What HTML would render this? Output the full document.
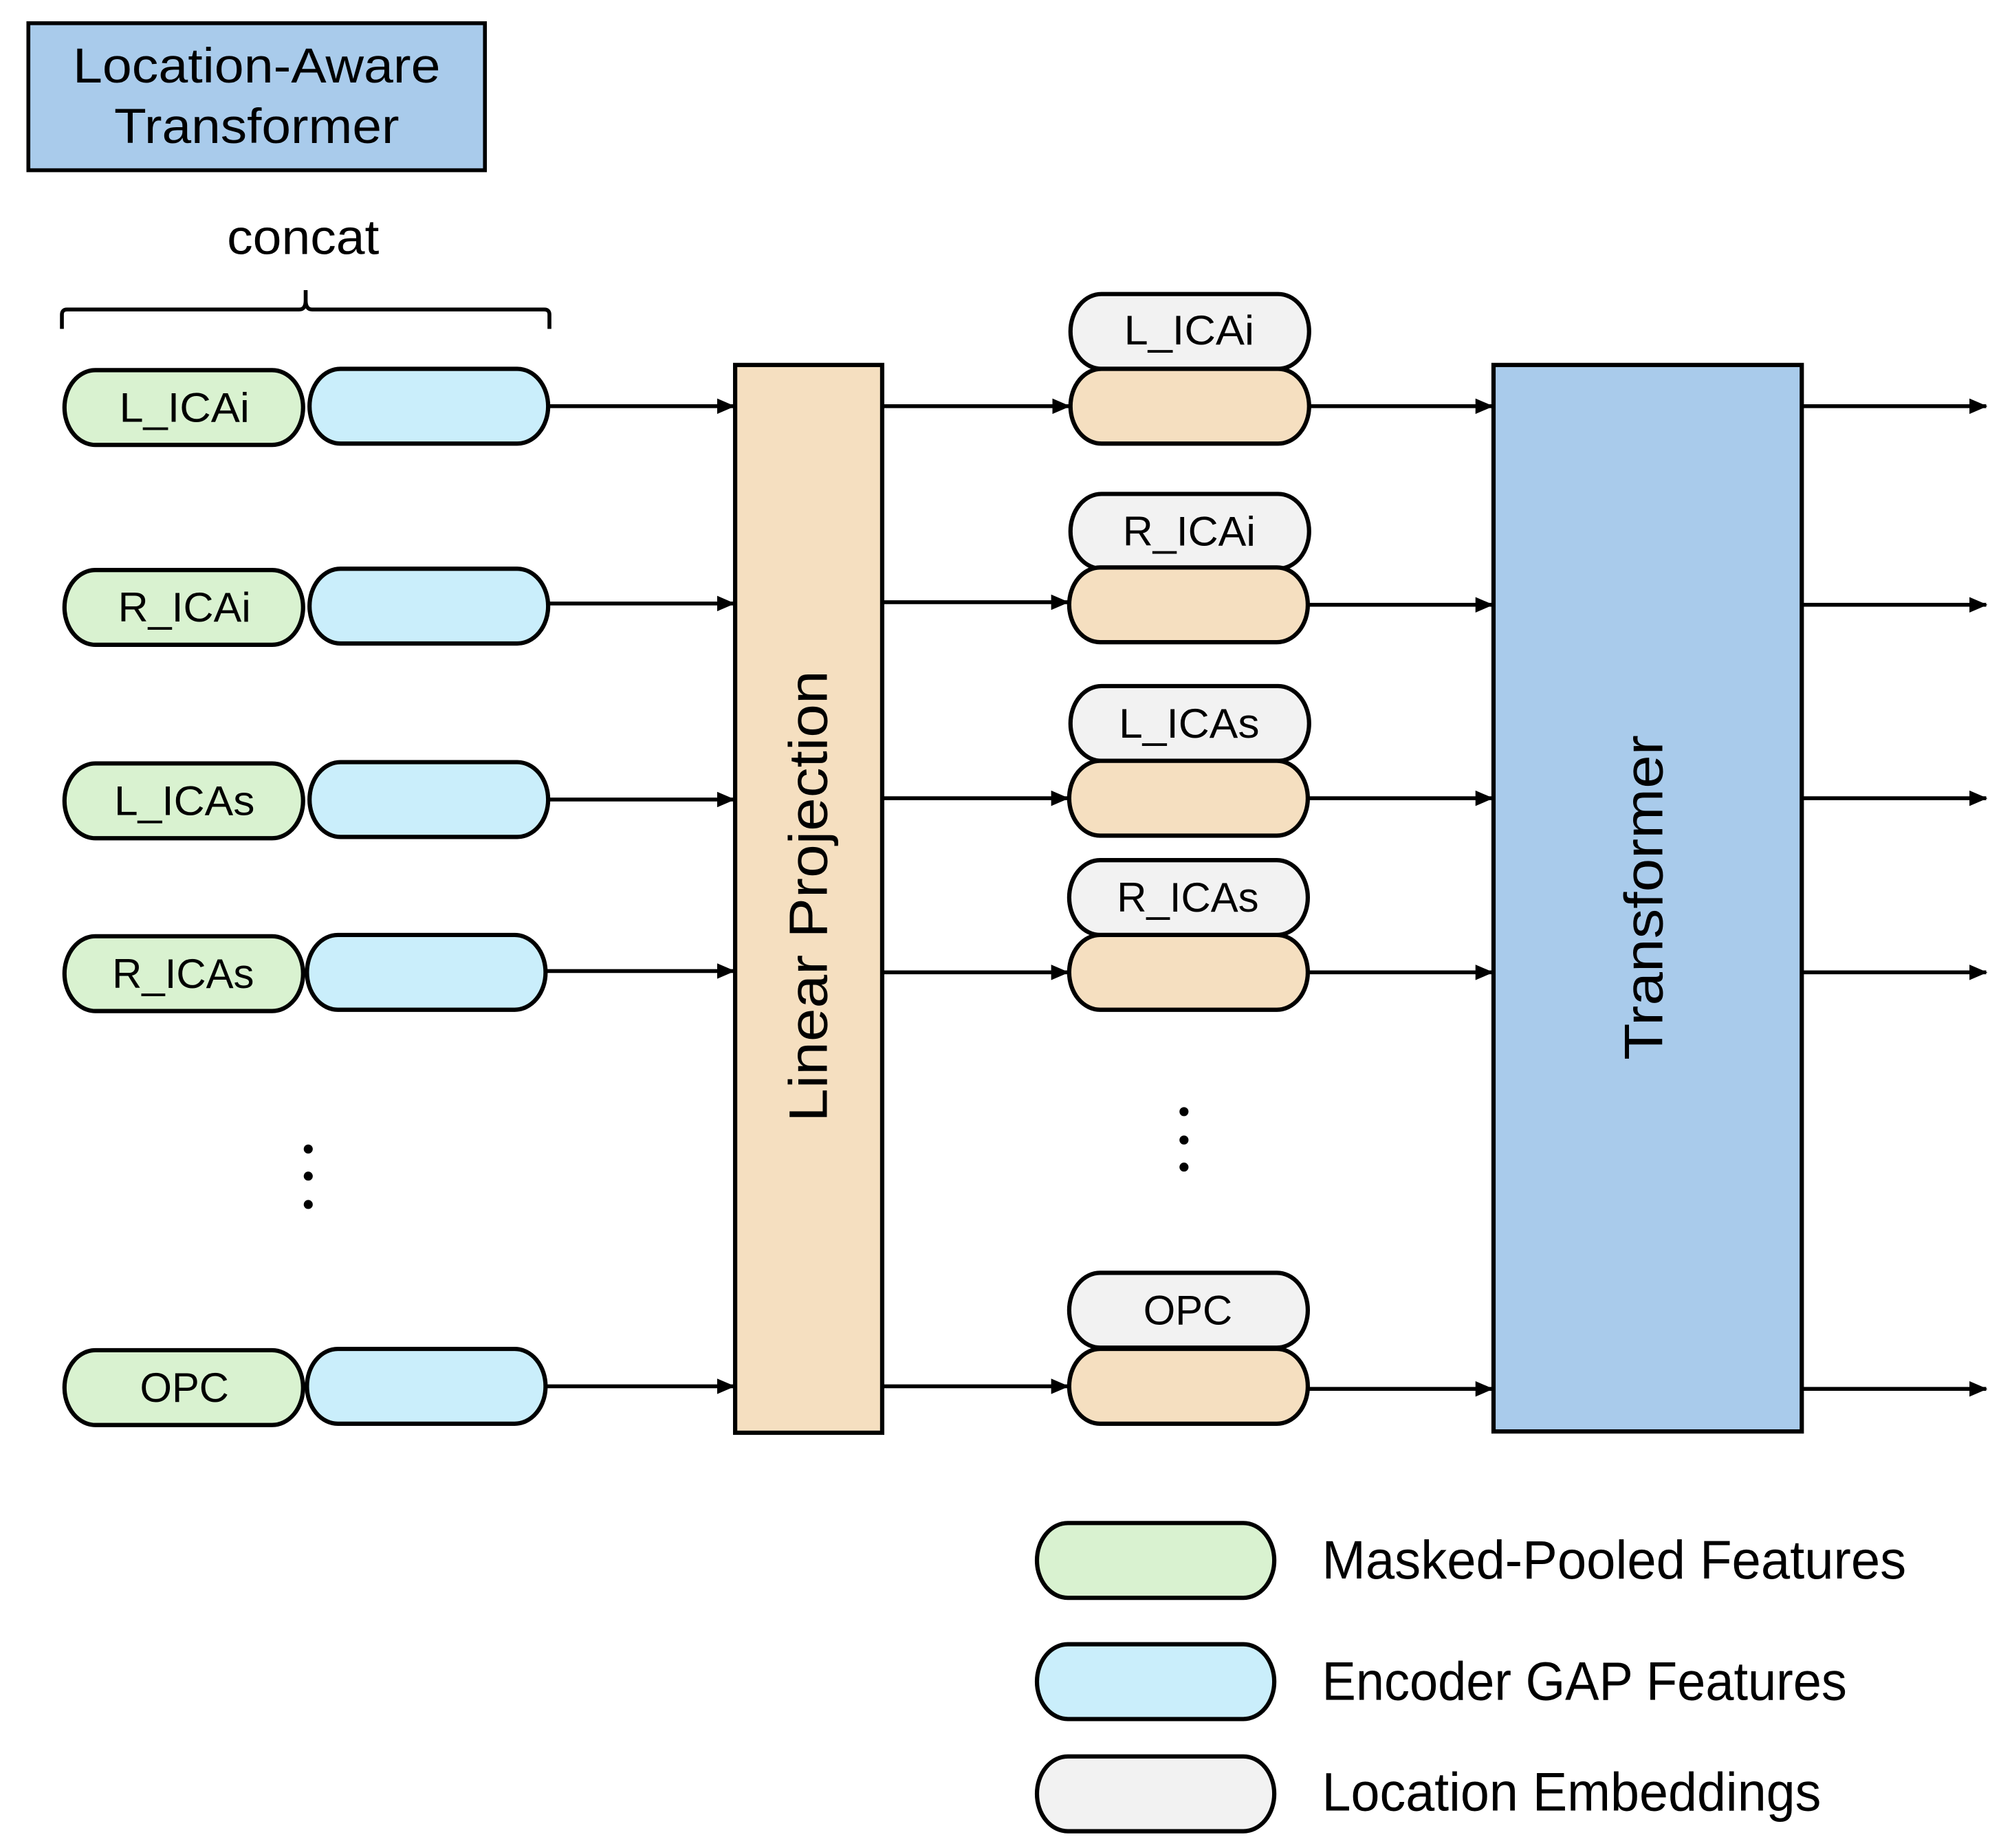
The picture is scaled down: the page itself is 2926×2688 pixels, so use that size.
<!DOCTYPE html>
<html><head><meta charset="utf-8"><style>
html,body{margin:0;padding:0;background:#fff;}
svg{display:block;}
text{font-family:"Liberation Sans","Noto Sans CJK JP",sans-serif;fill:#000;}
</style></head><body>
<svg width="2926" height="2688" viewBox="0 0 1560 1433" preserveAspectRatio="none" xmlns="http://www.w3.org/2000/svg">
<defs>
<marker id="ah" markerWidth="14" markerHeight="12" refX="13" refY="6" orient="auto" markerUnits="userSpaceOnUse">
<path d="M0,0 L14,6 L0,12 Z" fill="#000"/>
</marker>
</defs>
<g stroke="#000" stroke-width="3">
<rect x="22" y="18" width="354" height="114" fill="#a9cbeb"/>
</g>
<text x="199" y="64" font-size="38" text-anchor="middle" textLength="285" lengthAdjust="spacingAndGlyphs">Location-Aware</text>
<text x="199" y="111" font-size="38" text-anchor="middle" textLength="221" lengthAdjust="spacingAndGlyphs">Transformer</text>
<text x="235" y="197" font-size="38" text-anchor="middle" textLength="118" lengthAdjust="spacingAndGlyphs">concat</text>
<path d="M48,255 L48,244 Q48,240 52,240 L232,240 Q237,240 237,233 L237,225 L237,233 Q237,240 242,240 L422,240 Q426,240 426,244 L426,255" fill="none" stroke="#000" stroke-width="3"/>

<g stroke="#000" stroke-width="3.3">
<rect x="50" y="287" width="185" height="58" rx="24" ry="29" fill="#d9f2d0"/>
<rect x="240" y="286" width="185" height="58" rx="24" ry="29" fill="#caeefb"/>
<rect x="50" y="442" width="185" height="58" rx="24" ry="29" fill="#d9f2d0"/>
<rect x="240" y="441" width="185" height="58" rx="24" ry="29" fill="#caeefb"/>
<rect x="50" y="592" width="185" height="58" rx="24" ry="29" fill="#d9f2d0"/>
<rect x="240" y="591" width="185" height="58" rx="24" ry="29" fill="#caeefb"/>
<rect x="50" y="726" width="185" height="58" rx="24" ry="29" fill="#d9f2d0"/>
<rect x="238" y="725" width="185" height="58" rx="24" ry="29" fill="#caeefb"/>
<rect x="50" y="1047" width="185" height="58" rx="24" ry="29" fill="#d9f2d0"/>
<rect x="238" y="1046" width="185" height="58" rx="24" ry="29" fill="#caeefb"/>

<rect x="570" y="283" width="114" height="828" fill="#f5dfc0"/>

<rect x="830" y="228" width="185" height="58" rx="24" ry="29" fill="#f2f2f2"/>
<rect x="830" y="286" width="185" height="58" rx="24" ry="29" fill="#f5dfc0"/>
<rect x="830" y="383" width="185" height="58" rx="24" ry="29" fill="#f2f2f2"/>
<rect x="829" y="440" width="185" height="58" rx="24" ry="29" fill="#f5dfc0"/>
<rect x="830" y="532" width="185" height="58" rx="24" ry="29" fill="#f2f2f2"/>
<rect x="829" y="590" width="185" height="58" rx="24" ry="29" fill="#f5dfc0"/>
<rect x="829" y="667" width="185" height="58" rx="24" ry="29" fill="#f2f2f2"/>
<rect x="829" y="725" width="185" height="58" rx="24" ry="29" fill="#f5dfc0"/>
<rect x="829" y="987" width="185" height="58" rx="24" ry="29" fill="#f2f2f2"/>
<rect x="829" y="1046" width="185" height="58" rx="24" ry="29" fill="#f5dfc0"/>

<rect x="1158" y="283" width="239" height="827" fill="#a9cbeb"/>

<rect x="804" y="1181" width="184" height="58" rx="24" ry="29" fill="#d9f2d0"/>
<rect x="804" y="1275" width="184" height="58" rx="24" ry="29" fill="#caeefb"/>
<rect x="804" y="1362" width="184" height="58" rx="24" ry="29" fill="#f2f2f2"/>
</g>

<g stroke="#000" stroke-width="3" marker-end="url(#ah)">
<line x1="426" y1="315" x2="569" y2="315"/>
<line x1="426" y1="468" x2="569" y2="468"/>
<line x1="426" y1="620" x2="569" y2="620"/>
<line x1="424" y1="753" x2="569" y2="753"/>
<line x1="424" y1="1075" x2="569" y2="1075"/>
<line x1="684" y1="315" x2="829" y2="315"/>
<line x1="684" y1="467" x2="828" y2="467"/>
<line x1="684" y1="619" x2="828" y2="619"/>
<line x1="684" y1="754" x2="828" y2="754"/>
<line x1="684" y1="1075" x2="828" y2="1075"/>
<line x1="1015" y1="315" x2="1157" y2="315"/>
<line x1="1014" y1="469" x2="1157" y2="469"/>
<line x1="1014" y1="619" x2="1157" y2="619"/>
<line x1="1014" y1="754" x2="1157" y2="754"/>
<line x1="1014" y1="1077" x2="1157" y2="1077"/>
<line x1="1397" y1="315" x2="1540" y2="315"/>
<line x1="1397" y1="469" x2="1540" y2="469"/>
<line x1="1397" y1="619" x2="1540" y2="619"/>
<line x1="1397" y1="754" x2="1540" y2="754"/>
<line x1="1397" y1="1077" x2="1540" y2="1077"/>
</g>

<g fill="#000">
<circle cx="239" cy="891" r="3.5"/><circle cx="239" cy="912" r="3.5"/><circle cx="239" cy="934" r="3.5"/>
<circle cx="918" cy="862" r="3.5"/><circle cx="918" cy="884" r="3.5"/><circle cx="918" cy="905" r="3.5"/>
</g>

<g font-size="32" text-anchor="middle">
<text x="143" y="327" textLength="101" lengthAdjust="spacingAndGlyphs">L_ICAi</text>
<text x="143" y="482" textLength="103" lengthAdjust="spacingAndGlyphs">R_ICAi</text>
<text x="143" y="632" textLength="109" lengthAdjust="spacingAndGlyphs">L_ICAs</text>
<text x="142" y="766" textLength="110" lengthAdjust="spacingAndGlyphs">R_ICAs</text>
<text x="143" y="1087" textLength="69" lengthAdjust="spacingAndGlyphs">OPC</text>
<text x="922" y="267" textLength="101" lengthAdjust="spacingAndGlyphs">L_ICAi</text>
<text x="922" y="423" textLength="103" lengthAdjust="spacingAndGlyphs">R_ICAi</text>
<text x="922" y="572" textLength="109" lengthAdjust="spacingAndGlyphs">L_ICAs</text>
<text x="921" y="707" textLength="110" lengthAdjust="spacingAndGlyphs">R_ICAs</text>
<text x="921" y="1027" textLength="69" lengthAdjust="spacingAndGlyphs">OPC</text>
</g>

<text transform="translate(641,695) rotate(-90)" font-size="42" text-anchor="middle" textLength="350" lengthAdjust="spacingAndGlyphs">Linear Projection</text>
<text transform="translate(1289,696) rotate(-90)" font-size="42" text-anchor="middle" textLength="252" lengthAdjust="spacingAndGlyphs">Transformer</text>

<g font-size="42">
<text x="1025" y="1224" textLength="453" lengthAdjust="spacingAndGlyphs">Masked-Pooled Features</text>
<text x="1025" y="1318" textLength="407" lengthAdjust="spacingAndGlyphs">Encoder GAP Features</text>
<text x="1025" y="1404" textLength="387" lengthAdjust="spacingAndGlyphs">Location Embeddings</text>
</g>
</svg>
</body></html>
